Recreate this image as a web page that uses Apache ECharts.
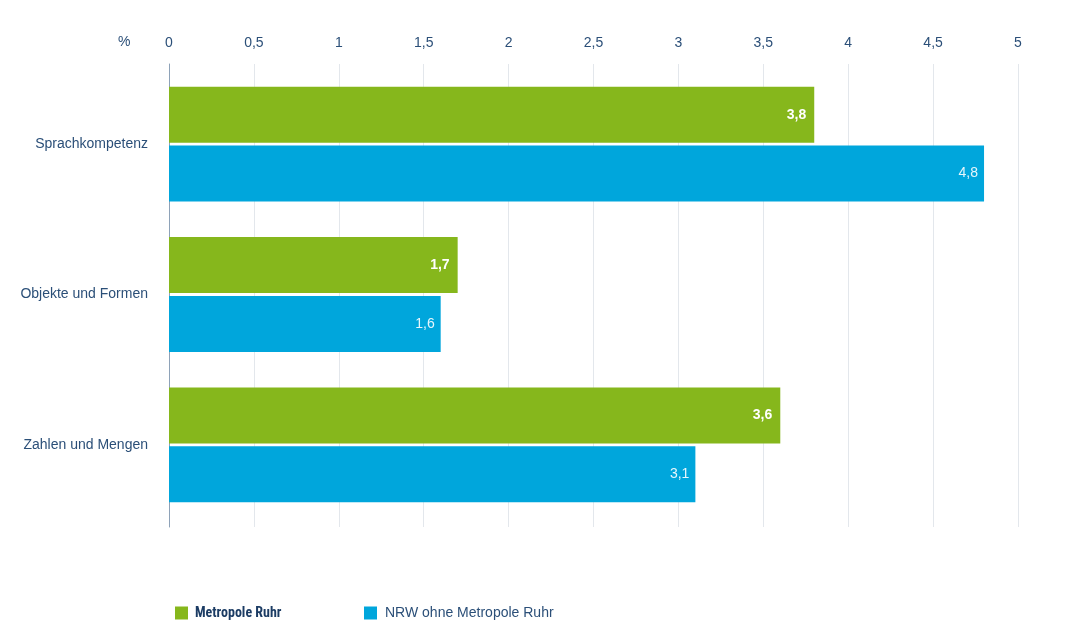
<!DOCTYPE html>
<html><head><meta charset="utf-8">
<script src="https://cdn.jsdelivr.net/npm/echarts@6/dist/echarts.min.js"></script>
<style>html,body{margin:0;padding:0;background:#fff}#c{width:1080px;height:632px}</style>
</head><body><div id="c"></div>
<script>
const categories = ['Sprachkompetenz', 'Objekte und Formen', 'Zahlen und Mengen'];
const seriesNames = ['Metropole Ruhr', 'NRW ohne Metropole Ruhr'];
const metropoleRuhr = [3.8, 1.7, 3.6];
const nrwOhne = [4.8, 1.6, 3.1];
const xTicks = [0, 0.5, 1, 1.5, 2, 2.5, 3, 3.5, 4, 4.5, 5];
const unitLabel = '%';

const FONT = '"Liberation Sans", Arial, sans-serif';
const NARROW = '"Roboto Condensed", "Liberation Sans Narrow", sans-serif';
const TXT = '#2b4f78';
const fmt = v => String(v).replace('.', ',');
const xMin = xTicks[0], xMax = xTicks[xTicks.length - 1];

const chart = echarts.init(document.getElementById('c'));
chart.setOption({
  animation: false,
  textStyle: { fontFamily: FONT },
  grid: [
    { left: 169, right: 62, top: 64, bottom: 105 },
    { left: 169, right: 62, top: 69, bottom: 112 }
  ],
  graphic: [
    { type: 'text', left: 118, top: 35, style: { text: unitLabel, fill: TXT, font: '14px ' + FONT } }
  ],
  legend: [
    { data: [seriesNames[0]], left: 175, top: 606, padding: 0, itemWidth: 13, itemHeight: 13, icon: 'rect',
      textStyle: { color: '#1c3c64', fontWeight: 'bold', fontSize: 14, fontFamily: NARROW, padding: [0, 0, 0, 2] } },
    { data: [seriesNames[1]], left: 364, top: 606, padding: 0, itemWidth: 13, itemHeight: 13, icon: 'rect',
      textStyle: { color: TXT, fontSize: 14, fontFamily: FONT, padding: [0, 0, 0, 3] } }
  ],
  xAxis: [
    { gridIndex: 0, type: 'value', position: 'top', min: xMin, max: xMax, interval: 0.5,
      axisLine: { show: false }, axisTick: { show: false },
      axisLabel: { color: TXT, fontSize: 14, fontFamily: FONT, margin: 14, formatter: v => fmt(v) },
      splitLine: { show: true, lineStyle: { color: '#e3e7ec', width: 1 } } },
    { gridIndex: 1, type: 'value', position: 'top', min: xMin, max: xMax, interval: 0.5,
      axisLine: { show: false }, axisTick: { show: false }, axisLabel: { show: false }, splitLine: { show: false } }
  ],
  yAxis: [
    { gridIndex: 0, type: 'category', data: categories, inverse: true,
      axisLine: { show: true, lineStyle: { color: '#8ea2b8', width: 1 } },
      axisTick: { show: false }, axisLabel: { show: false } },
    { gridIndex: 1, type: 'category', data: categories, inverse: true,
      axisLine: { show: false }, axisTick: { show: false },
      axisLabel: { color: TXT, fontSize: 14, fontFamily: FONT, margin: 21 } }
  ],
  series: [
    { name: seriesNames[0], type: 'bar', xAxisIndex: 1, yAxisIndex: 1, data: metropoleRuhr, barWidth: 56, barGap: '5%',
      itemStyle: { color: '#86b71c' }, z: 3,
      label: { show: true, position: 'insideRight', distance: 8, color: '#fff', fontWeight: 'bold', fontSize: 14, fontFamily: FONT, formatter: p => fmt(p.value) } },
    { name: seriesNames[1], type: 'bar', xAxisIndex: 1, yAxisIndex: 1, data: nrwOhne, barWidth: 56,
      itemStyle: { color: '#00a6dc' }, z: 3,
      label: { show: true, position: 'insideRight', distance: 6, color: '#e6f6fc', fontSize: 14, fontFamily: FONT, formatter: p => fmt(p.value) } }
  ]
});
</script></body></html>
